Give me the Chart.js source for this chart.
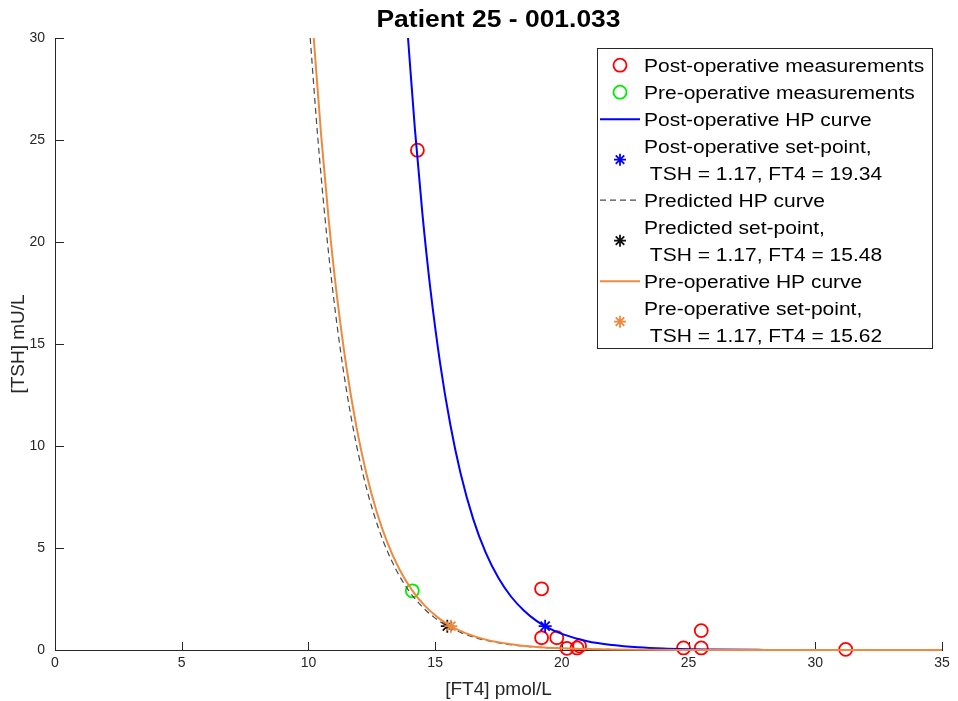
<!DOCTYPE html>
<html>
<head>
<meta charset="utf-8">
<script src="https://cdn.jsdelivr.net/npm/chart.js@4/dist/chart.umd.min.js"></script>
<style>
  html, body { margin: 0; padding: 0; background: #fff; }
  #wrap { width: 958px; height: 701px; position: relative; }
</style>
</head>
<body>
<div id="wrap"><canvas id="hp"></canvas></div>
<script>
(function () {

    var postX = [14.3, 19.2, 19.2, 19.8, 20.2, 20.6, 20.7, 24.8, 25.5, 25.5, 31.2];
    var postY = [24.5, 3.0, 0.6, 0.6, 0.08, 0.1, 0.2, 0.1, 0.95, 0.1, 0.03];
    var preX = [14.1];
    var preY = [2.9];

    // set-points
    var postSet = [19.34, 1.17];
    var predSet = [15.48, 1.17];
    var preSet = [15.62, 1.17];

    // HP curves
    var postCurveX = [13.93, 14.2, 14.5, 14.8, 15.2, 15.6, 16, 16.5, 17, 17.5, 18, 18.5, 19, 19.5, 20, 21, 22, 23, 24, 26, 28, 31, 35];
    var postCurveY = [30.0, 25.56, 21.35, 17.83, 14.03, 11.04, 8.68, 6.43, 4.76, 3.53, 2.61, 1.94, 1.43, 1.06, 0.79, 0.43, 0.24, 0.13, 0.07, 0.02, 0.006, 0.001, 0];
    var preCurveX = [10.21, 10.5, 10.8, 11.1, 11.5, 11.9, 12.3, 12.7, 13.1, 13.6, 14.1, 14.6, 15.1, 15.6, 16.2, 17, 18, 19, 20, 22, 25, 29, 35];
    var preCurveY = [30.0, 25.26, 21.10, 17.62, 13.86, 10.90, 8.58, 6.75, 5.31, 3.93, 2.91, 2.16, 1.60, 1.18, 0.83, 0.51, 0.28, 0.15, 0.084, 0.026, 0.004, 0, 0];
    var predCurveX = [10.07, 10.36, 10.66, 10.96, 11.36, 11.76, 12.16, 12.56, 12.96, 13.46, 13.96, 14.46, 14.96, 15.46, 16.06, 16.86, 17.86, 18.86, 19.86, 21.86, 24.86, 28.86, 35];
    var predCurveY = [30.0, 25.26, 21.10, 17.62, 13.86, 10.90, 8.58, 6.75, 5.31, 3.93, 2.91, 2.16, 1.60, 1.18, 0.83, 0.51, 0.28, 0.15, 0.084, 0.026, 0.004, 0, 0];

    var xTicks = [0, 5, 10, 15, 20, 25, 30, 35];
    var yTicks = [0, 5, 10, 15, 20, 25, 30];

    var RED = '#ff0000', GREEN = '#00ee00', BLUE = '#0000ff', BLACK = '#111111',
        DASH = '#4a4a4a', ORANGE = '#ee8a3e', AXIS = '#262626';

    function pts(xs, ys) {
        return xs.map(function (x, i) { return {x: x, y: ys[i]}; });
    }

    function marks(label, xs, ys, color, style, r) {
        return {
            label: label, data: pts(xs, ys), showLine: false, clip: false,
            pointStyle: style, pointRadius: r, pointHoverRadius: r,
            borderColor: color, backgroundColor: 'rgba(0,0,0,0)', pointBorderWidth: 1.8
        };
    }

    function curve(label, xs, ys, color, dash) {
        return {
            label: label, data: pts(xs, ys), showLine: true, pointRadius: 0,
            clip: {left: 2, top: 1, right: 2, bottom: 2},
            borderColor: color, borderWidth: dash ? 1.2 : 2, borderDash: dash || [],
            cubicInterpolationMode: 'monotone', fill: false
        };
    }

    // plotting order as in the figure: later ones on top
    var sets = [
        marks('Post-operative measurements', postX, postY, RED, 'circle', 6.5),
        marks('Pre-operative measurements', preX, preY, GREEN, 'circle', 6.5),
        curve('Post-operative HP curve', postCurveX, postCurveY, BLUE),
        marks('Post-operative set-point', [postSet[0]], [postSet[1]], BLUE, 'star', 6.5),
        curve('Predicted HP curve', predCurveX, predCurveY, DASH, [6, 4]),
        marks('Predicted set-point', [predSet[0]], [predSet[1]], BLACK, 'star', 6.5),
        curve('Pre-operative HP curve', preCurveX, preCurveY, ORANGE),
        marks('Pre-operative set-point', [preSet[0]], [preSet[1]], ORANGE, 'star', 6.5)
    ];
    sets.forEach(function (d, i) { d.order = sets.length - 1 - i; });

    function stretchText(ctx, s, x, y, font, sx, align) {
        ctx.save();
        ctx.font = font;
        ctx.textAlign = align || 'left';
        ctx.textBaseline = 'alphabetic';
        ctx.translate(x, y);
        ctx.scale(sx, 1);
        ctx.fillText(s, 0, 0);
        ctx.restore();
    }

    function drawStar(ctx, x, y, r, color) {
        ctx.save();
        ctx.strokeStyle = color;
        ctx.lineWidth = 1.8;
        ctx.beginPath();
        for (var k = 0; k < 4; k++) {
            var a = k * Math.PI / 4;
            ctx.moveTo(x - r * Math.cos(a), y - r * Math.sin(a));
            ctx.lineTo(x + r * Math.cos(a), y + r * Math.sin(a));
        }
        ctx.stroke();
        ctx.restore();
    }

    function drawCircle(ctx, x, y, r, color) {
        ctx.save();
        ctx.strokeStyle = color;
        ctx.lineWidth = 1.8;
        ctx.beginPath();
        ctx.arc(x, y, r, 0, Math.PI * 2);
        ctx.stroke();
        ctx.restore();
    }

    function drawSeg(ctx, x0, x1, y, color, width, dash) {
        ctx.save();
        ctx.strokeStyle = color;
        ctx.lineWidth = width;
        ctx.setLineDash(dash || []);
        ctx.beginPath();
        ctx.moveTo(x0, y);
        ctx.lineTo(x1, y);
        ctx.stroke();
        ctx.restore();
    }

    var matlabLook = {
        id: 'matlabLook',
        beforeDatasetsDraw: function (chart) {
            var ctx = chart.ctx, a = chart.chartArea;
            var xs = chart.scales.x, ys = chart.scales.y;
            ctx.save();
            ctx.strokeStyle = AXIS;
            ctx.lineWidth = 1;
            ctx.beginPath();
            xTicks.forEach(function (v) {
                var px = Math.round(xs.getPixelForValue(v)) + 0.5;
                ctx.moveTo(px, a.bottom);
                ctx.lineTo(px, a.bottom - 8);
            });
            yTicks.forEach(function (v) {
                var py = Math.round(ys.getPixelForValue(v)) + 0.5;
                ctx.moveTo(a.left, py);
                ctx.lineTo(a.left + 9, py);
            });
            ctx.stroke();
            ctx.restore();
        },
        afterDraw: function (chart) {
            var ctx = chart.ctx, a = chart.chartArea;
            ctx.fillStyle = '#000';
            stretchText(ctx, 'Patient 25 - 001.033', (a.left + a.right) / 2, 27,
                'bold 23px "Liberation Sans", Arial, sans-serif', 1.15, 'center');

            // legend box
            var bx = 597.5, by = 48.5, bw = 335, bh = 300;
            ctx.save();
            ctx.fillStyle = '#fff';
            ctx.fillRect(bx, by, bw, bh);
            ctx.strokeStyle = AXIS;
            ctx.lineWidth = 1;
            ctx.strokeRect(bx, by, bw, bh);
            ctx.restore();

            var font = '17.5px "Liberation Sans", Arial, sans-serif';
            var tx = 644, sx = 620, base = 71.7, step = 27;
            function ln(k) { return base + k * step; }
            ctx.fillStyle = '#000';
            var rows = [
                {lines: ['Post-operative measurements'], k: 0, kind: 'circle', color: RED},
                {lines: ['Pre-operative measurements'], k: 1, kind: 'circle', color: GREEN},
                {lines: ['Post-operative HP curve'], k: 2, kind: 'line', color: BLUE},
                {lines: ['Post-operative set-point,', ' TSH = ' + postSet[1].toFixed(2) + ', FT4 = ' + postSet[0].toFixed(2)], k: 3, kind: 'star', color: BLUE},
                {lines: ['Predicted HP curve'], k: 5, kind: 'dash', color: DASH},
                {lines: ['Predicted set-point,', ' TSH = ' + predSet[1].toFixed(2) + ', FT4 = ' + predSet[0].toFixed(2)], k: 6, kind: 'star', color: BLACK},
                {lines: ['Pre-operative HP curve'], k: 8, kind: 'line', color: ORANGE},
                {lines: ['Pre-operative set-point,', ' TSH = ' + preSet[1].toFixed(2) + ', FT4 = ' + preSet[0].toFixed(2)], k: 9, kind: 'star', color: ORANGE}
            ];
            rows.forEach(function (r) {
                r.lines.forEach(function (s, j) {
                    ctx.fillStyle = '#000';
                    stretchText(ctx, s, tx, ln(r.k + j), font, 1.2, 'left');
                });
                var cy = (ln(r.k) + ln(r.k + r.lines.length - 1)) / 2 - 6.5;
                if (r.kind === 'circle') drawCircle(ctx, sx, cy, 6.5, r.color);
                else if (r.kind === 'star') drawStar(ctx, sx, cy, 6, r.color);
                else if (r.kind === 'line') drawSeg(ctx, 600, 640, cy, r.color, 2);
                else drawSeg(ctx, 600, 640, cy, r.color, 1.2, [6, 4]);
            });
        }
    };

    var tickFont = {family: '"Liberation Sans", Arial, sans-serif', size: 14};
    var titleFont = {family: '"Liberation Sans", Arial, sans-serif', size: 19};

    var ctx = document.getElementById('hp').getContext('2d');
    var myChart = new Chart(ctx, {
        type: 'scatter',
        data: {datasets: sets},
        options: {
            responsive: true,
            maintainAspectRatio: false,
            animation: false,
            layout: {padding: {top: 38, right: 16, left: 0, bottom: 0}},
            plugins: {
                legend: {display: false},
                title: {display: false},
                tooltip: {enabled: false}
            },
            scales: {
                x: {
                    type: 'linear', min: 0, max: 35,
                    afterBuildTicks: function (s) { s.ticks = xTicks.map(function (v) { return {value: v}; }); },
                    afterFit: function (s) { s.height = 51; },
                    grid: {display: false, drawTicks: false},
                    border: {display: true, color: AXIS, width: 1},
                    ticks: {color: AXIS, font: tickFont, padding: 5, maxRotation: 0},
                    title: {display: true, text: '[FT4] pmol/L', color: AXIS, font: titleFont, padding: {top: 0, bottom: 0}}
                },
                y: {
                    type: 'linear', min: 0, max: 30,
                    afterBuildTicks: function (s) { s.ticks = yTicks.map(function (v) { return {value: v}; }); },
                    afterFit: function (s) { s.width = 55; },
                    grid: {display: false, drawTicks: false},
                    border: {display: true, color: AXIS, width: 1},
                    ticks: {color: AXIS, font: tickFont, padding: 10},
                    title: {display: true, text: '[TSH] mU/L', color: AXIS, font: titleFont, padding: {top: 7, bottom: 0}}
                }
            }
        },
        plugins: [matlabLook]
    });

})();
</script>
</body>
</html>
